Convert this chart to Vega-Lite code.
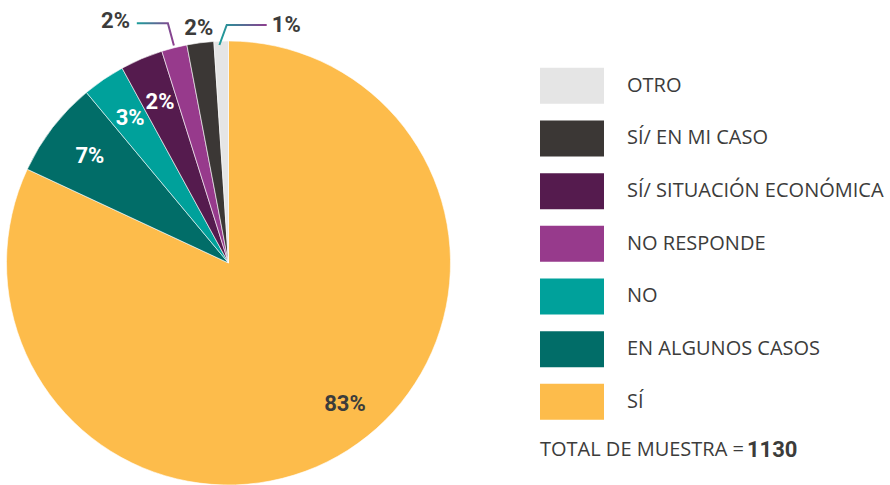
{
  "$schema": "https://vega.github.io/schema/vega-lite/v6.json",
  "padding": 0,
  "spacing": 82,
  "background": "white",
  "config": {"view": {"stroke": null}},
  "datasets": {
    "slices": [
      {"cat": "SÍ", "pct": 81.9, "label": "83%", "ord": 1, "leg": 6},
      {"cat": "EN ALGUNOS CASOS", "pct": 7.0, "label": "7%", "ord": 2, "leg": 5},
      {"cat": "NO", "pct": 3.1, "label": "3%", "ord": 3, "leg": 4},
      {"cat": "SÍ/ SITUACIÓN ECONÓMICA", "pct": 3.1, "label": "2%", "ord": 4, "leg": 2},
      {"cat": "NO RESPONDE", "pct": 1.85, "label": "2%", "ord": 5, "leg": 3},
      {"cat": "SÍ/ EN MI CASO", "pct": 1.95, "label": "2%", "ord": 6, "leg": 1},
      {"cat": "OTRO", "pct": 1.05, "label": "1%", "ord": 7, "leg": 0}
    ],
    "notes": [
      {"label": "2%", "x": -0.574, "y": 1.09},
      {"label": "2%", "x": -0.199, "y": 1.057},
      {"label": "1%", "x": 0.195, "y": 1.07}
    ],
    "leaders": [
      {"id": "a", "k": 1, "x": -0.413, "y": 1.08},
      {"id": "a", "k": 2, "x": -0.273, "y": 1.08},
      {"id": "a", "k": 3, "x": -0.246, "y": 0.98},
      {"id": "b", "k": 1, "x": -0.041, "y": 0.982},
      {"id": "b", "k": 2, "x": -0.008, "y": 1.072},
      {"id": "b", "k": 3, "x": 0.172, "y": 1.072}
    ],
    "total": [{"label": "TOTAL DE MUESTRA =", "n": 1130}]
  },
  "hconcat": [
    {
      "width": 458,
      "height": 485,
      "layer": [
        {
          "data": {"name": "slices"},
          "mark": {"type": "arc", "outerRadius": 222, "stroke": "white", "strokeWidth": 0.6},
          "encoding": {
            "theta": {"field": "pct", "type": "quantitative", "stack": true},
            "order": {"field": "ord", "type": "quantitative"},
            "color": {"field": "cat", "type": "nominal", "legend": null,
              "scale": {"domain": ["SÍ", "EN ALGUNOS CASOS", "NO", "SÍ/ SITUACIÓN ECONÓMICA", "NO RESPONDE", "SÍ/ EN MI CASO", "OTRO"],
                        "range": ["#FDBC4B", "#016D68", "#00A19B", "#551B4E", "#973A8C", "#3B3735", "#E5E5E5"]}},
            "x": {"datum": 0, "type": "quantitative", "axis": null, "scale": {"domain": [-1.02928, 1.03378], "nice": false, "zero": false}},
            "y": {"datum": 0, "type": "quantitative", "axis": null, "scale": {"domain": [-1.0, 1.18468], "nice": false, "zero": false}}
          }
        },
        {
          "data": {"name": "slices"},
          "mark": {"type": "text", "radius": 175, "font": "Roboto", "fontWeight": "bold", "fontSize": 22, "color": "white", "align": "center", "baseline": "middle"},
          "encoding": {
            "theta": {"field": "pct", "type": "quantitative", "stack": true},
            "order": {"field": "ord", "type": "quantitative"},
            "text": {"condition": {"test": "datum.ord >= 2 && datum.ord <= 4", "field": "label"}, "value": ""},
            "x": {"datum": 0, "type": "quantitative", "axis": null, "scale": {"domain": [-1.02928, 1.03378], "nice": false, "zero": false}},
            "y": {"datum": 0, "type": "quantitative", "axis": null, "scale": {"domain": [-1.0, 1.18468], "nice": false, "zero": false}}
          }
        },
        {
          "data": {"name": "slices"},
          "mark": {"type": "text", "radius": 183, "thetaOffset": -0.122, "font": "Roboto", "fontWeight": "bold", "fontSize": 22, "color": "#3C3C3B", "align": "center", "baseline": "middle"},
          "encoding": {
            "theta": {"field": "pct", "type": "quantitative", "stack": true},
            "order": {"field": "ord", "type": "quantitative"},
            "text": {"condition": {"test": "datum.ord == 1", "field": "label"}, "value": ""},
            "x": {"datum": 0, "type": "quantitative", "axis": null, "scale": {"domain": [-1.02928, 1.03378], "nice": false, "zero": false}},
            "y": {"datum": 0, "type": "quantitative", "axis": null, "scale": {"domain": [-1.0, 1.18468], "nice": false, "zero": false}}
          }
        },
        {
          "data": {"name": "leaders"},
          "mark": {"type": "line", "strokeWidth": 2,
            "stroke": {"gradient": "linear", "x1": 0, "y1": 0, "x2": 1, "y2": 0,
              "stops": [{"offset": 0, "color": "#1A9E9A"}, {"offset": 1, "color": "#8E3D8F"}]}},
          "encoding": {
            "x": {"field": "x", "type": "quantitative", "axis": null, "scale": {"domain": [-1.02928, 1.03378], "nice": false, "zero": false}},
            "y": {"field": "y", "type": "quantitative", "axis": null, "scale": {"domain": [-1.0, 1.18468], "nice": false, "zero": false}},
            "detail": {"field": "id", "type": "nominal"},
            "order": {"field": "k", "type": "quantitative"}
          }
        },
        {
          "data": {"name": "notes"},
          "mark": {"type": "text", "font": "Roboto", "fontWeight": "bold", "fontSize": 22, "color": "#3C3C3B", "align": "left", "baseline": "middle"},
          "encoding": {
            "x": {"field": "x", "type": "quantitative", "axis": null, "scale": {"domain": [-1.02928, 1.03378], "nice": false, "zero": false}},
            "y": {"field": "y", "type": "quantitative", "axis": null, "scale": {"domain": [-1.0, 1.18468], "nice": false, "zero": false}},
            "text": {"field": "label"}
          }
        }
      ]
    },
    {
      "width": 350,
      "height": 485,
      "layer": [
        {
          "data": {"name": "slices"},
          "mark": {"type": "point", "shape": "M-1,-0.5625H1V0.5625H-1Z", "size": 4096, "filled": true, "opacity": 1, "strokeWidth": 0},
          "encoding": {
            "x": {"datum": 32, "type": "quantitative", "axis": null, "scale": {"domain": [0, 350], "nice": false, "zero": false}},
            "y": {"field": "leg", "type": "quantitative", "axis": null, "scale": {"domain": [-1.629, 7.579], "nice": false, "zero": false, "reverse": true}},
            "color": {"field": "cat", "type": "nominal", "legend": null,
              "scale": {"domain": ["SÍ", "EN ALGUNOS CASOS", "NO", "SÍ/ SITUACIÓN ECONÓMICA", "NO RESPONDE", "SÍ/ EN MI CASO", "OTRO"],
                        "range": ["#FDBC4B", "#016D68", "#00A19B", "#551B4E", "#973A8C", "#3B3735", "#E5E5E5"]}}
          }
        },
        {
          "data": {"name": "slices"},
          "mark": {"type": "text", "font": "Open Sans", "fontSize": 20, "color": "#3C3C3B", "align": "left", "baseline": "middle"},
          "encoding": {
            "x": {"datum": 87, "type": "quantitative", "axis": null, "scale": {"domain": [0, 350], "nice": false, "zero": false}},
            "y": {"field": "leg", "type": "quantitative", "axis": null, "scale": {"domain": [-1.629, 7.579], "nice": false, "zero": false, "reverse": true}},
            "text": {"field": "cat"}
          }
        },
        {
          "data": {"name": "total"},
          "mark": {"type": "text", "font": "Open Sans", "fontSize": 20, "color": "#3C3C3B", "align": "left", "baseline": "middle"},
          "encoding": {
            "x": {"datum": 0, "type": "quantitative", "axis": null, "scale": {"domain": [0, 350], "nice": false, "zero": false}},
            "y": {"datum": 6.91, "type": "quantitative", "axis": null, "scale": {"domain": [-1.629, 7.579], "nice": false, "zero": false, "reverse": true}},
            "text": {"field": "label"}
          }
        },
        {
          "data": {"name": "total"},
          "mark": {"type": "text", "font": "Roboto", "fontWeight": "bold", "fontSize": 22, "color": "#3C3C3B", "align": "left", "baseline": "middle"},
          "encoding": {
            "x": {"datum": 207, "type": "quantitative", "axis": null, "scale": {"domain": [0, 350], "nice": false, "zero": false}},
            "y": {"datum": 6.91, "type": "quantitative", "axis": null, "scale": {"domain": [-1.629, 7.579], "nice": false, "zero": false, "reverse": true}},
            "text": {"field": "n", "type": "quantitative"}
          }
        }
      ]
    }
  ]
}
